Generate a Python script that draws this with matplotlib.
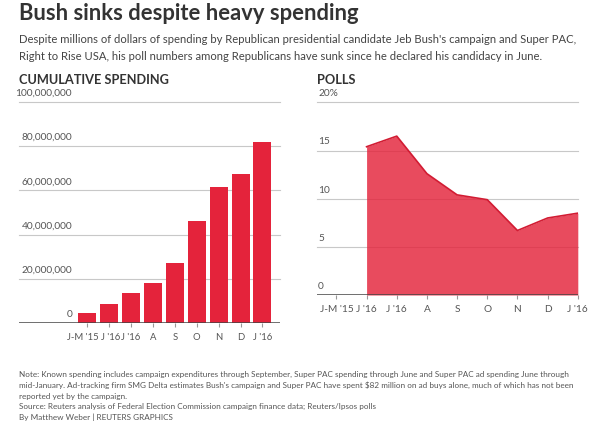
import numpy as np
import matplotlib.pyplot as plt
from matplotlib import transforms

plt.rcParams['font.family'] = ['Lato', 'DejaVu Sans']

# Données -------------------------------------------------------------
months = ["J-M '15", "J '16", "J '16", "A", "S", "O", "N", "D", "J '16"]
spending = [4.7e6, 8.4e6, 13.4e6, 18.0e6, 27.0e6, 46.0e6, 61.5e6, 67.3e6, 82.0e6]
polls = [np.nan, 15.4, 16.5, 12.6, 10.4, 9.9, 6.7, 8.0, 8.5]
spend_ticks = [0, 20e6, 40e6, 60e6, 80e6, 100e6]
spend_labels = ["0", "20,000,000", "40,000,000", "60,000,000", "80,000,000", "100,000,000"]
poll_ticks = [0, 5, 10, 15, 20]
poll_labels = ["0", "5", "10", "15", "20%"]

red = '#e4233b'
grid_c = '#c8c8c8'
txt_c = '#555555'

fig = plt.figure(figsize=(6, 4.28), dpi=100)

# Titres ----------------------------------------------------------------
fig.text(0.032, 0.953, "Bush sinks despite heavy spending", fontsize=15.8,
         fontweight='bold', color='#333333', va='baseline')
fig.text(0.032, 0.92,
         "Despite millions of dollars of spending by Republican presidential candidate Jeb Bush's campaign and Super PAC,\n"
         "Right to Rise USA, his poll numbers among Republicans have sunk since he declared his candidacy in June.",
         fontsize=8.1, color='#444444', va='top', linespacing=1.6)

x = np.arange(len(months))

# Graphique de gauche : dépenses cumulées ------------------------------
ax1 = fig.add_axes([0.0317, 0.2453, 0.435, 0.5164])
ax1.bar(x, spending, width=0.82, color=red, zorder=3)
ax1.set_xlim(-3.1, 8.8)
ax1.set_ylim(0, 100e6)
for t in spend_ticks[1:]:
    ax1.axhline(t, color=grid_c, lw=0.8, zorder=1, clip_on=False)
ax1.axhline(0, color='#444444', lw=1.8, zorder=4)
trans1 = transforms.blended_transform_factory(ax1.transAxes, ax1.transData)
for t, lab in zip(spend_ticks, spend_labels):
    ax1.annotate(lab, (0.203, t), xycoords=trans1, xytext=(0, 3),
                 textcoords='offset points', ha='right', va='bottom',
                 fontsize=7.3, color=txt_c)
ax1.set_yticks([])
ax1.set_xticks(x)
ax1.set_xticklabels(months, fontsize=6.8, color=txt_c)
ax1.tick_params(axis='x', length=3, color='#999999', pad=4)
# les deux premières étiquettes se touchent : petit décalage
lbls = ax1.get_xticklabels()
lbls[0].set_transform(lbls[0].get_transform() +
                      transforms.ScaledTranslation(-3 / 72, 0, fig.dpi_scale_trans))
lbls[1].set_transform(lbls[1].get_transform() +
                      transforms.ScaledTranslation(1.5 / 72, 0, fig.dpi_scale_trans))
for s in ax1.spines.values():
    s.set_visible(False)

# Graphique de droite : sondages ----------------------------------------
ax2 = fig.add_axes([0.528, 0.3107, 0.435, 0.450])
for t in poll_ticks[1:]:
    ax2.axhline(t, color=grid_c, lw=0.8, zorder=1, clip_on=False)
ax2.fill_between(x[1:], 0, polls[1:], color=red, alpha=0.82, lw=0, zorder=2)
ax2.plot(x[1:], polls[1:], color='#d21c33', lw=1.2, zorder=3)
ax2.set_xlim(-0.65, 8)
ax2.set_ylim(0, 20)
ax2.axhline(0, color='#444444', lw=1.8, zorder=4)
trans2 = transforms.blended_transform_factory(ax2.transAxes, ax2.transData)
for t, lab in zip(poll_ticks, poll_labels):
    ax2.annotate(lab, (0.005, t), xycoords=trans2, xytext=(0, 3),
                 textcoords='offset points', ha='left', va='bottom',
                 fontsize=7.3, color=txt_c)
ax2.set_yticks([])
ax2.set_xticks(x)
ax2.set_xticklabels(months, fontsize=7.3, color=txt_c)
ax2.tick_params(axis='x', length=3, color='#999999', pad=4)
for s in ax2.spines.values():
    s.set_visible(False)

# En-têtes des graphiques
fig.text(0.032, 0.813, "CUMULATIVE SPENDING", fontsize=9.2,
         fontweight='bold', color='#333333', va='center')
fig.text(0.528, 0.813, "POLLS", fontsize=9.2,
         fontweight='bold', color='#333333', va='center')

# Notes ------------------------------------------------------------------
fig.text(0.032, 0.133,
         "Note: Known spending includes campaign expenditures through September, Super PAC spending through June and Super PAC ad spending June through\n"
         "mid-January. Ad-tracking firm SMG Delta estimates Bush's campaign and Super PAC have spent $82 million on ad buys alone, much of which has not been\n"
         "reported yet by the campaign.\n"
         "Source: Reuters analysis of Federal Election Commission campaign finance data; Reuters/Ipsos polls\n"
         "By Matthew Weber | REUTERS GRAPHICS",
         fontsize=5.9, color='#555555', va='top', linespacing=1.55)

fig.savefig('out.png', dpi=100)
